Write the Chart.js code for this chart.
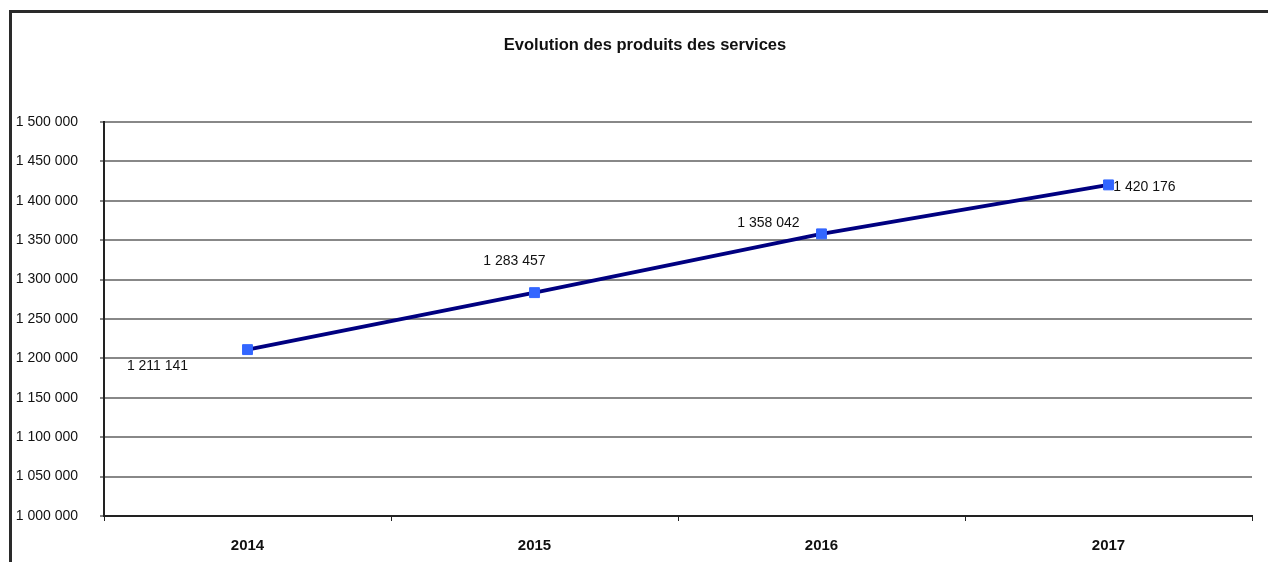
<!DOCTYPE html>
<html>
<head>
<meta charset="utf-8">
<script src="https://cdn.jsdelivr.net/npm/chart.js@4"></script>
<style>
  html, body { margin: 0; padding: 0; background: #fff; overflow: hidden; }
  #frame {
    position: absolute; left: 9px; top: 10px; width: 1400px; height: 700px;
    border-top: 3px solid #2a2a2a; border-left: 3px solid #2a2a2a;
  }
  #wrap { position: absolute; left: 0; top: 0; width: 1268px; height: 562px; }
  #title {
    position: absolute; left: 0; width: 1290px; top: 34px; text-align: center;
    font: bold 16.5px "Liberation Sans", Arial, sans-serif; color: #111; line-height: 20px;
  }
</style>
</head>
<body>
<div id="frame"></div>
<div id="wrap"><canvas id="chart" width="1268" height="562"></canvas></div>
<div id="title">Evolution des produits des services</div>
<script>
// data
const years = ['2014', '2015', '2016', '2017'];
const produits = [1211141, 1283457, 1358042, 1420176];
const yTicks = [1000000, 1050000, 1100000, 1150000, 1200000, 1250000, 1300000, 1350000, 1400000, 1450000, 1500000];

// where each value label sits relative to its point (like the Excel layout)
const labelOffsets = [[-90, 17], [-20, -31], [-53, -11], [36, 2]];

const FONT = '"Liberation Sans", Arial, sans-serif';

function fmt(v) {
  return String(v).replace(/\B(?=(\d{3})+(?!\d))/g, ' ');
}

const valueLabels = {
  id: 'valueLabels',
  afterDatasetsDraw(chart) {
    const ctx = chart.ctx;
    const meta = chart.getDatasetMeta(0);
    ctx.save();
    ctx.font = '14px ' + FONT;
    ctx.fillStyle = '#111';
    ctx.textAlign = 'center';
    ctx.textBaseline = 'middle';
    meta.data.forEach((pt, i) => {
      const off = labelOffsets[i];
      ctx.fillText(fmt(produits[i]), pt.x + off[0], pt.y + off[1]);
    });
    ctx.restore();
  }
};

new Chart(document.getElementById('chart'), {
  type: 'line',
  data: {
    labels: years,
    datasets: [{
      data: produits,
      borderColor: '#000080',
      borderWidth: 4,
      pointStyle: 'rect',
      pointRadius: 7,
      pointBackgroundColor: '#3366ff',
      pointBorderColor: '#3366ff',
      pointBorderWidth: 1,
      tension: 0
    }]
  },
  options: {
    responsive: false,
    animation: false,
    layout: { padding: { left: 0, right: 16, top: 122, bottom: 0 } },
    plugins: {
      legend: { display: false },
      tooltip: { enabled: false },
      title: { display: false }
    },
    scales: {
      x: {
        offset: true,
        grid: {
          offset: true,
          drawOnChartArea: false,
          drawTicks: true,
          tickLength: 5,
          color: '#222',
          lineWidth: 1
        },
        border: { display: true, color: '#222', width: 2 },
        ticks: {
          color: '#111',
          padding: 16,
          font: { family: FONT, size: 15, weight: 'bold' }
        },
        afterFit(scale) { scale.height = 46; }
      },
      y: {
        min: 1000000,
        max: 1500000,
        afterBuildTicks(scale) { scale.ticks = yTicks.map(v => ({ value: v })); },
        grid: {
          color: '#888',
          lineWidth: 2,
          drawTicks: true,
          tickLength: 4
        },
        border: { display: true, color: '#222', width: 2 },
        ticks: {
          color: '#111',
          padding: 22,
          font: { family: FONT, size: 14 },
          callback: v => fmt(v)
        },
        afterFit(scale) { scale.width = 104; }
      }
    }
  },
  plugins: [valueLabels]
});
</script>
</body>
</html>
